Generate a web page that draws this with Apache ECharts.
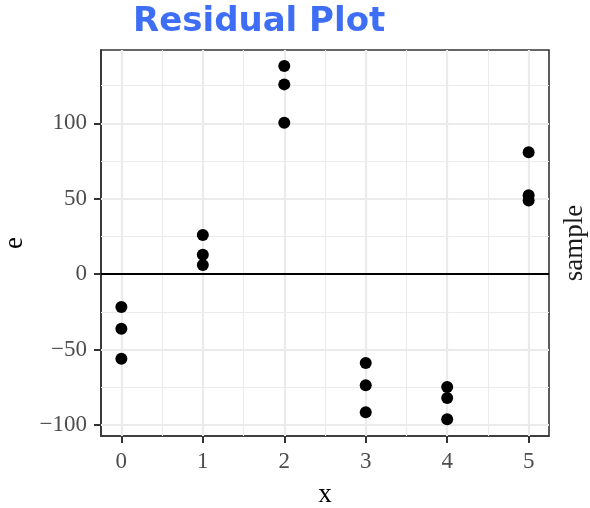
<!DOCTYPE html>
<html>
<head>
<meta charset="utf-8">
<script src="https://cdn.jsdelivr.net/npm/echarts@6/dist/echarts.min.js"></script>
<style>html,body{margin:0;padding:0;background:#fff}#c{width:590px;height:508px}</style>
</head>
<body>
<div id="c"></div>
<script>
const titleText = 'Residual Plot';
const xGroups = [0, 1, 2, 3, 4, 5];
const residuals = [
  [-21.8, -36.1, -56.0],
  [26.0, 12.9, 6.1],
  [138.1, 125.9, 100.4],
  [-58.9, -73.7, -91.6],
  [-74.8, -82.1, -96.2],
  [80.9, 52.4, 48.9]
];
const xTicks = [0, 1, 2, 3, 4, 5];
const xMinor = [0.5, 1.5, 2.5, 3.5, 4.5];
const yTicks = [-100, -50, 0, 50, 100];
const yMinor = [-75, -25, 25, 75, 125];
const refLine = 0;
const xName = 'x';
const yName = 'e';
const facetName = 'sample';

const points = [];
xGroups.forEach((x, i) => residuals[i].forEach(v => points.push([x, v])));

const serif = '"Liberation Serif", "DejaVu Serif", serif';
const gridColor = '#ebebeb';

function vLines(vals) { return vals.map(v => ({ xAxis: v })); }
function hLines(vals) { return vals.map(v => ({ yAxis: v })); }
function lineSeries(data, color, width, z) {
  return {
    type: 'scatter', data: [], silent: true, z: z,
    markLine: {
      silent: true, symbol: 'none', animation: false,
      label: { show: false },
      lineStyle: { color: color, width: width, type: 'solid' },
      emphasis: { disabled: true },
      data: data
    }
  };
}

const chart = echarts.init(document.getElementById('c'), null, { renderer: 'canvas' });
chart.setOption({
  animation: false,
  backgroundColor: '#ffffff',
  graphic: [{
    type: 'text', left: 133, top: 5, z: 10,
    style: { text: titleText, fill: '#3d6ef5', font: 'bold 34px "DejaVu Sans", sans-serif' }
  }],
  grid: {
    left: 101, right: 41, top: 50, bottom: 72,
    outerBoundsMode: 'none', containLabel: false,
    show: true, borderColor: '#333333', borderWidth: 1.6, backgroundColor: '#ffffff', z: 0
  },
  xAxis: {
    type: 'value', min: -0.25, max: 5.25,
    name: xName, nameLocation: 'middle', nameGap: 45,
    nameTextStyle: { fontFamily: serif, fontSize: 27, color: '#000000' },
    axisLine: { show: true, onZero: false, lineStyle: { color: '#333333', width: 1.6 } },
    axisTick: { show: true, length: 7, customValues: xTicks, lineStyle: { color: '#333333', width: 2 } },
    axisLabel: { customValues: xTicks, margin: 14, fontFamily: serif, fontSize: 23, color: '#4d4d4d' },
    splitLine: { show: false }
  },
  yAxis: [{
    type: 'value', min: -107.3, max: 148.7,
    name: yName, nameLocation: 'middle', nameGap: 72, nameRotate: 90,
    nameTextStyle: { fontFamily: serif, fontSize: 27, color: '#000000' },
    axisLine: { show: true, onZero: false, lineStyle: { color: '#333333', width: 1.6 } },
    axisTick: { show: true, length: 7, customValues: yTicks, lineStyle: { color: '#333333', width: 2 } },
    axisLabel: {
      customValues: yTicks, margin: 14, fontFamily: serif, fontSize: 23, color: '#4d4d4d',
      formatter: v => String(v).replace('-', '\u2212')
    },
    splitLine: { show: false }
  }, {
    type: 'value', min: -107.3, max: 148.7, position: 'right',
    name: facetName, nameLocation: 'middle', nameGap: 12, nameRotate: 90,
    nameTextStyle: { fontFamily: serif, fontSize: 27, color: '#1a1a1a' },
    axisLine: { show: false }, axisTick: { show: false }, axisLabel: { show: false },
    splitLine: { show: false }
  }],
  series: [
    lineSeries(vLines(xMinor).concat(hLines(yMinor)), gridColor, 1.1, 1),
    lineSeries(vLines(xTicks).concat(hLines(yTicks)), gridColor, 2.2, 2),
    lineSeries(hLines([refLine]), '#000000', 2, 3),
    {
      type: 'scatter', data: points, symbol: 'circle', symbolSize: 12, z: 5,
      itemStyle: { color: '#000000', opacity: 1 },
      emphasis: { disabled: true }
    }
  ]
});
</script>
</body>
</html>
